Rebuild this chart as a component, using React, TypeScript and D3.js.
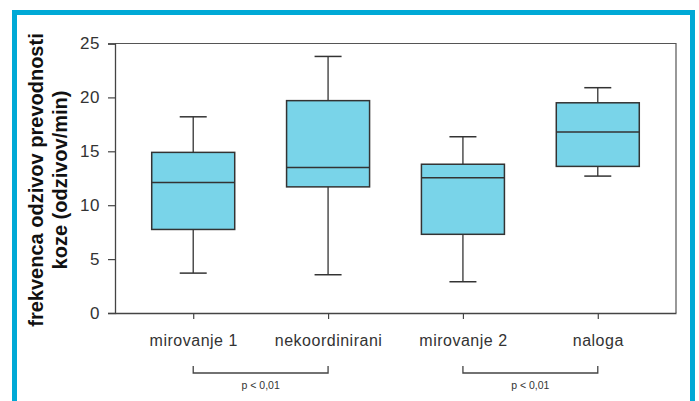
import React, { useEffect, useRef } from 'react';
import * as d3 from 'd3';

const categories = ['mirovanje 1', 'nekoordinirani', 'mirovanje 2', 'naloga'];
const whiskerLow = [3.7, 3.55, 2.9, 12.7];
const q1 = [7.75, 11.7, 7.3, 13.6];
const medians = [12.1, 13.5, 12.55, 16.8];
const q3 = [14.9, 19.7, 13.8, 19.5];
const whiskerHigh = [18.2, 23.8, 16.35, 20.9];
const yTicks = [0, 5, 10, 15, 20, 25];
const comparisons = [
  ['mirovanje 1', 'nekoordinirani'],
  ['mirovanje 2', 'naloga'],
];
const comparisonLabels = ['p < 0,01', 'p < 0,01'];
const yTitleLines = ['frekvenca odzivov prevodnosti', 'koze (odzivov/min)'];

const App = () => {
  const ref = useRef<SVGSVGElement>(null);

  useEffect(() => {
    const svg = d3.select(ref.current);
    svg.selectAll('*').remove();

    const left = 115, right = 676, top = 43.5, bottom = 313;
    const font = '"Liberation Sans", Arial, sans-serif';
    const textColor = '#333';

    // blue frame
    svg.append('path')
      .attr('d', `M14.5,${401 + 5} V12.5 H692.5 V${401 + 5}`)
      .attr('fill', 'none')
      .attr('stroke', '#00a9d6')
      .attr('stroke-width', 5);

    const x = d3.scalePoint<string>()
      .domain(categories)
      .range([left, right])
      .padding(0.58);

    const y = d3.scaleLinear()
      .domain([0, 25])
      .range([bottom, top]);

    // plot frame top/right
    svg.append('path')
      .attr('d', `M${left},${top} H${right} V${bottom}`)
      .attr('fill', 'none')
      .attr('stroke', '#555')
      .attr('stroke-width', 1.2);

    const yAxis = svg.append('g')
      .attr('transform', `translate(${left},0)`)
      .call(d3.axisLeft(y).tickValues(yTicks).tickSize(7).tickPadding(8));
    yAxis.select('.domain').attr('stroke', '#444').attr('stroke-width', 1.3);
    yAxis.selectAll('.tick line').attr('stroke', '#444').attr('stroke-width', 1.2);
    yAxis.selectAll('.tick text')
      .attr('font-family', font)
      .attr('font-size', 17)
      .attr('letter-spacing', 0.5)
      .attr('fill', textColor);

    const xAxis = svg.append('g')
      .attr('transform', `translate(0,${bottom})`)
      .call(d3.axisBottom(x).tickSize(6).tickPadding(16).tickSizeOuter(0));
    xAxis.select('.domain').attr('stroke', '#444').attr('stroke-width', 1.3);
    xAxis.selectAll('.tick line').attr('stroke', '#444').attr('stroke-width', 1.2);
    xAxis.selectAll('.tick text')
      .attr('font-family', font)
      .attr('font-size', 16)
      .attr('letter-spacing', 0.5)
      .attr('fill', textColor);

    const boxW = 83;
    const capW = 27;
    const stroke = '#333';

    categories.forEach((c, i) => {
      const cx = x(c)!;
      const g = svg.append('g');
      g.append('line')
        .attr('x1', cx).attr('x2', cx)
        .attr('y1', y(whiskerHigh[i])).attr('y2', y(q3[i]))
        .attr('stroke', stroke).attr('stroke-width', 1.3);
      g.append('line')
        .attr('x1', cx).attr('x2', cx)
        .attr('y1', y(q1[i])).attr('y2', y(whiskerLow[i]))
        .attr('stroke', stroke).attr('stroke-width', 1.3);
      [whiskerHigh[i], whiskerLow[i]].forEach(v => {
        g.append('line')
          .attr('x1', cx - capW / 2).attr('x2', cx + capW / 2)
          .attr('y1', y(v)).attr('y2', y(v))
          .attr('stroke', stroke).attr('stroke-width', 1.5);
      });
      g.append('rect')
        .attr('x', cx - boxW / 2)
        .attr('y', y(q3[i]))
        .attr('width', boxW)
        .attr('height', y(q1[i]) - y(q3[i]))
        .attr('fill', '#79d4e9')
        .attr('stroke', stroke)
        .attr('stroke-width', 1.5);
      g.append('line')
        .attr('x1', cx - boxW / 2).attr('x2', cx + boxW / 2)
        .attr('y1', y(medians[i])).attr('y2', y(medians[i]))
        .attr('stroke', stroke).attr('stroke-width', 1.5);
    });

    // significance brackets
    const by = 373;
    comparisons.forEach(([a, b], i) => {
      const x1 = x(a)!, x2 = x(b)!;
      svg.append('path')
        .attr('d', `M${x1},${by - 7} V${by} H${x2} V${by - 7}`)
        .attr('fill', 'none')
        .attr('stroke', '#444')
        .attr('stroke-width', 1.3);
      svg.append('text')
        .attr('x', (x1 + x2) / 2)
        .attr('y', by + 16)
        .attr('text-anchor', 'middle')
        .attr('font-family', font)
        .attr('font-size', 10.5)
        .attr('fill', textColor)
        .text(comparisonLabels[i]);
    });

    // y title
    const title = svg.append('text')
      .attr('transform', 'translate(0,180) rotate(-90)')
      .attr('text-anchor', 'middle')
      .attr('font-family', font)
      .attr('font-weight', 'bold')
      .attr('font-size', 20)
      .attr('fill', '#111');
    yTitleLines.forEach((t, i) => {
      title.append('tspan')
        .attr('x', 0)
        .attr('y', 43 + i * 24)
        .text(t);
    });
  }, []);

  return (
    <svg ref={ref} width={699} height={401} style={{ position: 'absolute', left: 0, top: 0, background: '#fff' }} />
  );
};

export default App;
